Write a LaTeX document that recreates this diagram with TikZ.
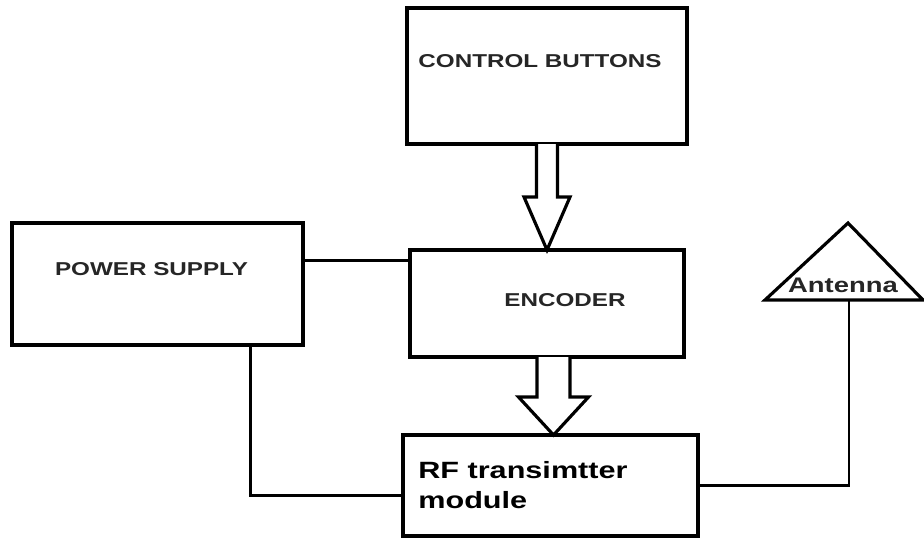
\documentclass[tikz,border=0pt]{standalone}
\usepackage{graphicx}
\usepackage{fontspec}
\setmainfont{Liberation Sans}
\usetikzlibrary{positioning,calc}
\tikzset{
  blockbox/.style={draw, line width=2pt, fill=white, inner sep=0pt, outer sep=0pt},
  lbl/.style={font=\bfseries\fontsize{10.6}{12}\selectfont, text=black!85, inner sep=0pt},
  wire/.style={line width=1.6pt},
  hollow/.style={draw, line width=1.8pt, fill=white, line join=miter}
}
\newcommand{\wide}[1]{\scalebox{1.3}[1]{#1}}

\begin{document}
\begin{tikzpicture}
\path[use as bounding box, fill=white] (0,0) rectangle (18.48,-10.74);
% blocks
\node[blockbox, minimum width=5.6cm, minimum height=2.72cm] (ctrl) at (10.94,-1.52) {};
\node[blockbox, minimum width=5.48cm, minimum height=2.14cm, below=2.12cm of ctrl] (enc) {};
\node[blockbox, minimum width=5.82cm, minimum height=2.44cm] (ps) at (3.15,-5.68) {};
\node[blockbox, minimum width=5.9cm, minimum height=2.02cm, below=1.56cm of enc, xshift=0.07cm] (rf) {};
\node[lbl] (ctrltxt) at ($(ctrl)+(-0.14,0.3)$) {\wide{CONTROL BUTTONS}};
\node[lbl] (pstxt) at ($(ps)+(-0.12,0.3)$) {\wide{POWER SUPPLY}};
\node[lbl] (enctxt) at ($(enc)+(0.36,0.07)$) {\wide{ENCODER}};
\node[lbl, text=black, font=\bfseries\fontsize{13.4}{17}\selectfont, align=left, anchor=west] (rftxt) at ($(rf.west)+(0.3,0)$) {\wide{RF transimtter}\\\wide{module}};
% antenna
\coordinate (antbase) at (16.98,-6.0);
\draw[line width=1.8pt, line join=miter] (15.3,-6.0) -- (16.96,-4.46) -- (18.46,-6.0) -- cycle;
\node[lbl, font=\bfseries\fontsize{12}{14}\selectfont] (ant) at (16.86,-5.7) {\wide{Antenna}};
% wires
\draw[wire] ($(ps.north east)!0.31!(ps.south east)$) coordinate (psout) -- (psout -| enc.west);
\draw[wire] ($(ps.south west)!0.82!(ps.south east)$) |- ($(rf.north west)!0.6!(rf.south west)$);
\draw[wire] (antbase) |- (rf.east);
% hollow arrows
\draw[hollow] ($(ctrl.south)+(-0.21,0)$) -- ++(0,-1.06) -- ++(-0.25,0) -- (enc.north)
  -- ($(ctrl.south)+(0.46,-1.06)$) -- ++(-0.25,0) -- ($(ctrl.south)+(0.21,0)$);
\coordinate (a2) at ($(enc.south)+(0.13,0)$);
\draw[hollow] ($(a2)+(-0.33,0)$) -- ++(0,-0.8) -- ++(-0.37,0) -- ($(rf.north)+(0.06,0)$)
  -- ($(a2)+(0.7,-0.8)$) -- ++(-0.37,0) -- ($(a2)+(0.33,0)$);
\end{tikzpicture}
\end{document}
